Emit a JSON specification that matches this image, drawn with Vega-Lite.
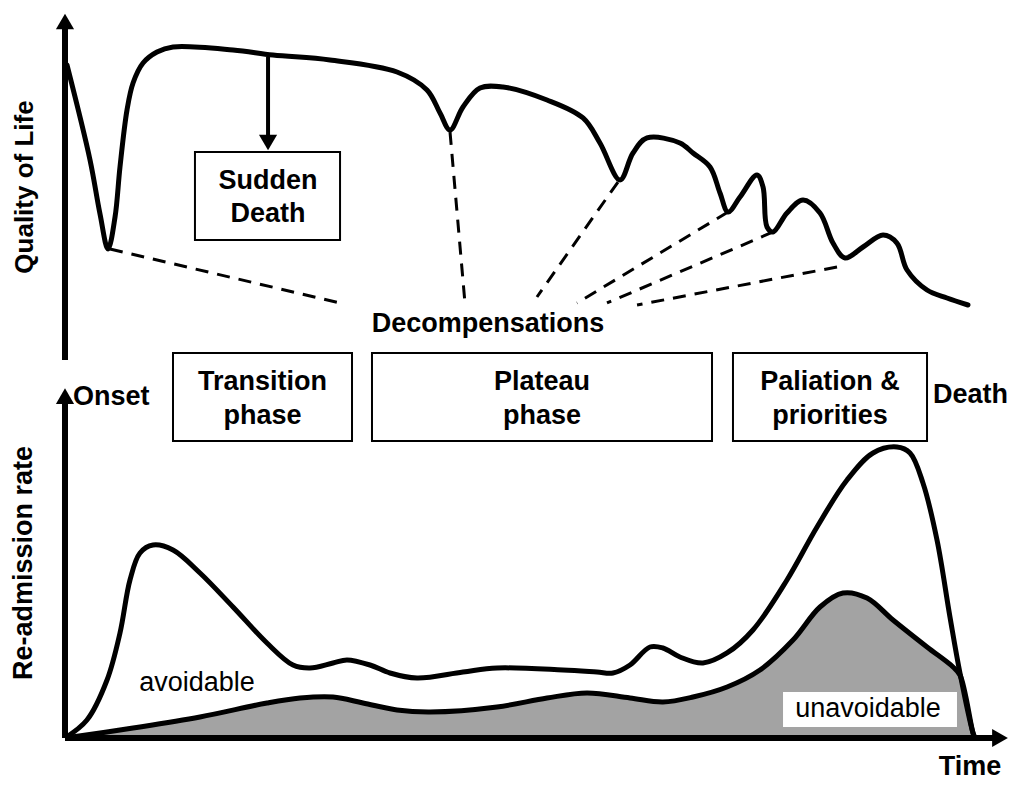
{
  "$schema": "https://vega.github.io/schema/vega-lite/v6.json",
  "width": 1024,
  "height": 789,
  "autosize": {"type": "fit", "contains": "padding"},
  "padding": 0,
  "background": "white",
  "config": {"view": {"stroke": null}, "text": {"font": "Liberation Sans"}},
  "datasets": {
    "qol": [
      {"t": 0.22, "q": 86.18}, {"t": 2.78, "q": 58.24}, {"t": 3.89, "q": 42.35}, {"t": 4.78, "q": 32.06},
      {"t": 5.56, "q": 41.47}, {"t": 6.11, "q": 56.18}, {"t": 6.89, "q": 72.94}, {"t": 7.56, "q": 80.88},
      {"t": 8.67, "q": 86.76}, {"t": 10.22, "q": 90.0}, {"t": 12.0, "q": 91.47}, {"t": 18.67, "q": 90.59},
      {"t": 23.11, "q": 89.12}, {"t": 29.44, "q": 87.65}, {"t": 36.89, "q": 84.12}, {"t": 40.22, "q": 78.82},
      {"t": 41.67, "q": 72.06}, {"t": 42.78, "q": 67.06}, {"t": 44.22, "q": 73.82}, {"t": 46.11, "q": 79.41},
      {"t": 48.67, "q": 79.71}, {"t": 53.56, "q": 75.88}, {"t": 57.56, "q": 70.59}, {"t": 59.44, "q": 63.24},
      {"t": 61.67, "q": 52.35}, {"t": 63.11, "q": 60.29}, {"t": 64.67, "q": 64.71}, {"t": 68.33, "q": 63.24},
      {"t": 69.78, "q": 60.29}, {"t": 71.67, "q": 56.18}, {"t": 72.78, "q": 48.53}, {"t": 73.67, "q": 42.94},
      {"t": 75.0, "q": 47.35}, {"t": 76.89, "q": 53.82}, {"t": 77.56, "q": 50.29}, {"t": 78.0, "q": 38.53},
      {"t": 78.67, "q": 37.06}, {"t": 80.22, "q": 42.65}, {"t": 82.0, "q": 46.47}, {"t": 83.89, "q": 42.65},
      {"t": 85.33, "q": 33.82}, {"t": 86.67, "q": 29.41}, {"t": 88.67, "q": 32.65}, {"t": 90.89, "q": 36.18},
      {"t": 92.44, "q": 33.82}, {"t": 93.56, "q": 25.88}, {"t": 95.78, "q": 20.0}, {"t": 98.0, "q": 17.65},
      {"t": 100.33, "q": 15.59}
    ],
    "decomp": [
      {"t": 5.0, "q": 32.06, "t2": 30.56, "q2": 16.18},
      {"t": 42.78, "q": 66.47, "t2": 44.44, "q2": 16.18},
      {"t": 61.44, "q": 51.76, "t2": 52.44, "q2": 17.94},
      {"t": 73.67, "q": 42.94, "t2": 56.89, "q2": 16.18},
      {"t": 78.67, "q": 37.06, "t2": 60.22, "q2": 16.18},
      {"t": 85.78, "q": 26.76, "t2": 63.56, "q2": 15.59}
    ],
    "sd_shaft": [{"t": 22.56, "t2": 22.56, "q": 88.53, "q2": 65.0}],
    "sd_head": [{"t": 22.56, "q": 63.38}],
    "sd_box": [{"t": 14.44, "t2": 30.56, "q": 60.59, "q2": 34.71}],
    "sd_text": [{"t": 22.56, "q": 52.06, "label": "Sudden"}, {"t": 22.56, "q": 42.35, "label": "Death"}],
    "decomp_label": [{"t": 47.0, "q": 10.0, "label": "Decompensations"}],
    "q_axis": [{"t": 0, "t2": 0, "q": -0.6, "q2": 97.94}],
    "q_head": [{"t": 0, "q": 98.97}],
    "q_title": [{"t": -4.44, "q": 50.29, "label": "Quality  of  Life"}],
    "total": [
      {"t": 0, "r": 0}, {"t": 2.44, "r": 5.14}, {"t": 4.67, "r": 16.57}, {"t": 6.11, "r": 30.0},
      {"t": 7.22, "r": 45.14}, {"t": 8.33, "r": 52.86}, {"t": 9.78, "r": 55.14}, {"t": 12.0, "r": 53.71},
      {"t": 15.0, "r": 47.14}, {"t": 18.67, "r": 37.43}, {"t": 22.44, "r": 27.14}, {"t": 25.33, "r": 20.86},
      {"t": 27.22, "r": 20.0}, {"t": 29.78, "r": 21.43}, {"t": 31.33, "r": 22.29}, {"t": 33.89, "r": 20.86},
      {"t": 36.11, "r": 18.57}, {"t": 39.11, "r": 17.14}, {"t": 44.22, "r": 18.86}, {"t": 48.0, "r": 20.0},
      {"t": 55.33, "r": 19.43}, {"t": 59.11, "r": 18.86}, {"t": 60.89, "r": 18.57}, {"t": 62.78, "r": 20.86},
      {"t": 65.0, "r": 26.0}, {"t": 66.44, "r": 25.71}, {"t": 68.33, "r": 23.14}, {"t": 70.89, "r": 21.43},
      {"t": 73.56, "r": 24.29}, {"t": 76.44, "r": 30.86}, {"t": 80.22, "r": 45.14}, {"t": 83.56, "r": 60.29},
      {"t": 86.89, "r": 73.71}, {"t": 89.78, "r": 81.43}, {"t": 92.44, "r": 83.14}, {"t": 93.89, "r": 81.43},
      {"t": 95.33, "r": 72.86}, {"t": 96.89, "r": 56.57}, {"t": 98.33, "r": 34.57}, {"t": 99.44, "r": 18.57},
      {"t": 100.89, "r": 1.43}, {"t": 101.11, "r": 0}
    ],
    "unavoidable": [
      {"t": 0, "r": 0}, {"t": 7.56, "r": 2.86}, {"t": 15.0, "r": 6.0}, {"t": 22.44, "r": 10.0},
      {"t": 26.11, "r": 11.43}, {"t": 29.78, "r": 11.71}, {"t": 33.11, "r": 10.0}, {"t": 36.89, "r": 8.0},
      {"t": 40.56, "r": 7.43}, {"t": 48.0, "r": 8.86}, {"t": 53.56, "r": 11.43}, {"t": 58.0, "r": 12.86},
      {"t": 62.78, "r": 11.43}, {"t": 66.44, "r": 10.29}, {"t": 69.78, "r": 11.71}, {"t": 73.56, "r": 14.57},
      {"t": 77.22, "r": 19.43}, {"t": 80.89, "r": 28.0}, {"t": 83.89, "r": 37.43}, {"t": 86.44, "r": 41.43},
      {"t": 89.11, "r": 40.0}, {"t": 92.0, "r": 33.71}, {"t": 95.78, "r": 26.0}, {"t": 98.67, "r": 20.29},
      {"t": 99.44, "r": 18.0}, {"t": 100.89, "r": 1.43}, {"t": 101.11, "r": 0}
    ],
    "unav_box": [{"t": 79.78, "t2": 99.11, "r": 13.14, "r2": 3.14}],
    "area_labels": [{"t": 89.22, "r": 8.29, "label": "unavoidable"}, {"t": 14.67, "r": 15.71, "label": "avoidable"}],
    "phases": [
      {"t": 12.0, "t2": 31.89, "r": 110.0, "r2": 84.86},
      {"t": 34.11, "t2": 71.89, "r": 110.0, "r2": 84.86},
      {"t": 74.22, "t2": 95.78, "r": 110.0, "r2": 84.86}
    ],
    "phase_text": [
      {"t": 21.94, "r": 101.71, "label": "Transition"}, {"t": 21.94, "r": 92.0, "label": "phase"},
      {"t": 53.0, "r": 101.71, "label": "Plateau"}, {"t": 53.0, "r": 92.0, "label": "phase"},
      {"t": 85.0, "r": 101.71, "label": "Paliation  &"}, {"t": 85.0, "r": 92.0, "label": "priorities"}
    ],
    "ends": [{"t": 0.89, "r": 97.43, "label": "Onset"}, {"t": 96.44, "r": 98.0, "label": "Death"}],
    "r_axes": [{"t": 0, "t2": 0, "r": 0, "r2": 96.57}, {"t": 0, "t2": 103.33, "r": 0, "r2": 0}],
    "r_head_up": [{"t": 0, "r": 97.71}],
    "r_head_right": [{"t": 103.89, "r": 0}],
    "r_title": [{"t": -4.56, "r": 50.0, "label": "Re-admission rate"}],
    "time_title": [{"t": 100.56, "r": -8.29, "label": "Time"}]
  },
  "encoding": {
    "x": {"field": "t", "type": "quantitative", "scale": {"domain": [-7.2222, 106.5556], "nice": false, "zero": false}, "axis": null}
  },
  "resolve": {"scale": {"y": "independent"}},
  "layer": [
    {
      "encoding": {
        "y": {"field": "q", "type": "quantitative", "scale": {"domain": [-126.765, 105.294], "nice": false, "zero": false}, "axis": null}
      },
      "layer": [
        {"data": {"name": "qol"}, "mark": {"type": "line", "color": "black", "strokeWidth": 5, "interpolate": "catmull-rom", "strokeCap": "round", "strokeJoin": "round"}},
        {"data": {"name": "decomp"}, "mark": {"type": "rule", "color": "black", "strokeWidth": 3, "strokeDash": [13, 9]},
         "encoding": {"x2": {"field": "t2"}, "y2": {"field": "q2"}}},
        {"data": {"name": "sd_shaft"}, "mark": {"type": "rule", "color": "black", "strokeWidth": 4},
         "encoding": {"x2": {"field": "t2"}, "y2": {"field": "q2"}}},
        {"data": {"name": "sd_head"}, "mark": {"type": "point", "shape": "triangle-down", "size": 330, "filled": true, "color": "black", "opacity": 1}},
        {"data": {"name": "sd_box"}, "mark": {"type": "rect", "fill": "white", "stroke": "black", "strokeWidth": 2},
         "encoding": {"x2": {"field": "t2"}, "y2": {"field": "q2"}}},
        {"data": {"name": "sd_text"}, "mark": {"type": "text", "fontSize": 27, "fontWeight": "bold", "align": "center", "baseline": "middle", "color": "black"},
         "encoding": {"text": {"field": "label"}}},
        {"data": {"name": "decomp_label"}, "mark": {"type": "text", "fontSize": 27, "fontWeight": "bold", "align": "center", "baseline": "middle", "color": "black"},
         "encoding": {"text": {"field": "label"}}},
        {"data": {"name": "q_axis"}, "mark": {"type": "rule", "color": "black", "strokeWidth": 6},
         "encoding": {"x2": {"field": "t2"}, "y2": {"field": "q2"}}},
        {"data": {"name": "q_head"}, "mark": {"type": "point", "shape": "triangle-up", "size": 330, "filled": true, "color": "black", "opacity": 1}},
        {"data": {"name": "q_title"}, "mark": {"type": "text", "fontSize": 26, "fontWeight": "bold", "align": "center", "baseline": "middle", "angle": 270, "color": "black"},
         "encoding": {"text": {"field": "label"}}}
      ]
    },
    {
      "encoding": {
        "y": {"field": "r", "type": "quantitative", "scale": {"domain": [-14.571, 210.857], "nice": false, "zero": false}, "axis": null}
      },
      "layer": [
        {"data": {"name": "unavoidable"}, "mark": {"type": "area", "color": "#a3a3a3", "interpolate": "catmull-rom"},
         "encoding": {"y2": {"datum": 0}}},
        {"data": {"name": "unavoidable"}, "mark": {"type": "line", "color": "black", "strokeWidth": 5, "interpolate": "catmull-rom", "strokeJoin": "round"}},
        {"data": {"name": "total"}, "mark": {"type": "line", "color": "black", "strokeWidth": 5, "interpolate": "catmull-rom", "strokeJoin": "round"}},
        {"data": {"name": "unav_box"}, "mark": {"type": "rect", "fill": "white"},
         "encoding": {"x2": {"field": "t2"}, "y2": {"field": "r2"}}},
        {"data": {"name": "area_labels"}, "mark": {"type": "text", "fontSize": 27, "align": "center", "baseline": "middle", "color": "black"},
         "encoding": {"text": {"field": "label"}}},
        {"data": {"name": "phases"}, "mark": {"type": "rect", "fill": "white", "stroke": "black", "strokeWidth": 2},
         "encoding": {"x2": {"field": "t2"}, "y2": {"field": "r2"}}},
        {"data": {"name": "phase_text"}, "mark": {"type": "text", "fontSize": 27, "fontWeight": "bold", "align": "center", "baseline": "middle", "color": "black"},
         "encoding": {"text": {"field": "label"}}},
        {"data": {"name": "ends"}, "mark": {"type": "text", "fontSize": 27, "fontWeight": "bold", "align": "left", "baseline": "middle", "color": "black"},
         "encoding": {"text": {"field": "label"}}},
        {"data": {"name": "r_axes"}, "mark": {"type": "rule", "color": "black", "strokeWidth": 6},
         "encoding": {"x2": {"field": "t2"}, "y2": {"field": "r2"}}},
        {"data": {"name": "r_head_up"}, "mark": {"type": "point", "shape": "triangle-up", "size": 330, "filled": true, "color": "black", "opacity": 1}},
        {"data": {"name": "r_head_right"}, "mark": {"type": "point", "shape": "triangle-right", "size": 330, "filled": true, "color": "black", "opacity": 1}},
        {"data": {"name": "r_title"}, "mark": {"type": "text", "fontSize": 27, "fontWeight": "bold", "align": "center", "baseline": "middle", "angle": 270, "color": "black"},
         "encoding": {"text": {"field": "label"}}},
        {"data": {"name": "time_title"}, "mark": {"type": "text", "fontSize": 27, "fontWeight": "bold", "align": "center", "baseline": "middle", "color": "black"},
         "encoding": {"text": {"field": "label"}}}
      ]
    }
  ]
}
